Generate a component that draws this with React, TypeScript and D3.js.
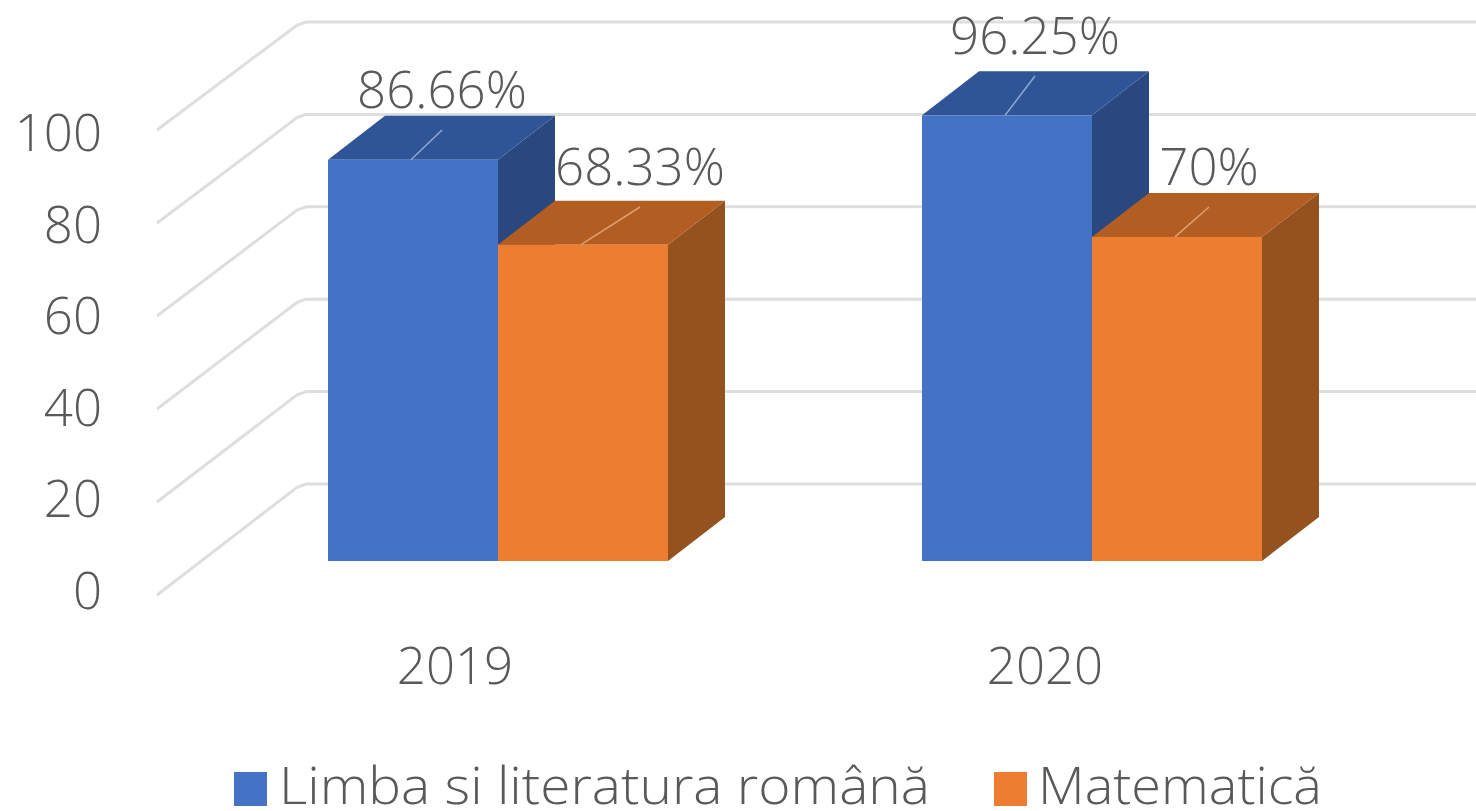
import React from "react";
import * as d3 from "d3";

const categories = ["2019", "2020"];
const seriesNames = ["Limba si literatura română", "Matematică"];
const limbaValues = [86.66, 96.25];
const matematicaValues = [68.33, 70];
const dataLabels = [["86.66%", "96.25%"], ["68.33%", "70%"]];
const ticks = [0, 20, 40, 60, 80, 100];

const W = 1476, H = 811;
const FONT = "'Open Sans', 'Noto Sans', sans-serif";
const TEXT = "#595959";
const GRID = "#dedede";

const yFront = d3.scaleLinear().domain([0, 100]).range([595, 130]);
const yBack = d3.scaleLinear().domain([0, 100]).range([484, 22]);
const yBar = d3.scaleLinear().domain([0, 100]).range([561, 98]);
const yTick = d3.scaleLinear().domain([0, 100]).range([609, 151]);
const xGroup = d3.scaleBand().domain(categories).range([328, 1262]).paddingInner(0.4276);
const xSeries = d3.scaleBand().domain(["0", "1"]).range([0, xGroup.bandwidth()]);
const DX = 57, DY = -44;

const seriesStyle = [
  { front: "#4472c4", top: "#2f5597", side: "#2a4880", leader: "#8fa9d8" },
  { front: "#ed7d31", top: "#b25d22", side: "#93521e", leader: "#e0a070" },
];
const labelCx = [[442, 1035], [640, 1209]];
const labelY = [[108, 54], [185, 185]];
const axisCx = [455, 1045];

function poly(pts: number[][]) {
  return d3.line()(pts as [number, number][]) + "Z";
}

function gridPath(t: number) {
  const yF = yFront(t), yB = yBack(t);
  const bend = d3.interpolateNumber(yF, yB)(0.97);
  return d3.line()([[157, yF], [297, bend], [306, yB], [W, yB]] as [number, number][]) as string;
}

export default function App() {
  const all = [limbaValues, matematicaValues];
  return (
    <svg width={W} height={H} style={{ position: "absolute", left: 0, top: 0, display: "block", filter: "blur(0.5px)" }} fontFamily={FONT}>
      <rect width={W} height={H} fill="#fff" />
      {ticks.map((t) => (
        <path key={t} d={gridPath(t)} fill="none" stroke={GRID} strokeWidth={3} strokeLinejoin="round" />
      ))}
      {ticks.map((t) => (
        <text key={t} x={102} y={yTick(t)} textAnchor="end" fontSize={51} fontWeight={300} fill={TEXT}>{t}</text>
      ))}
      {categories.map((c, ci) =>
        [0, 1].map((si) => {
          const v = all[si][ci];
          const s = seriesStyle[si];
          const x0 = (xGroup(c) as number) + (xSeries(String(si)) as number);
          const x1 = x0 + xSeries.bandwidth();
          const y0 = yBar(0);
          const y1 = yBar(v);
          const mid = (x0 + x1) / 2;
          return (
            <g key={c + si}>
              <path d={poly([[x1, y0], [x1 + DX, y0 + DY], [x1 + DX, y1 + DY], [x1, y1]])} fill={s.side} />
              <path d={poly([[x0, y1], [x0 + DX, y1 + DY], [x1 + DX, y1 + DY], [x1, y1]])} fill={s.top} />
              <rect x={x0} y={y1} width={x1 - x0} height={y0 - y1} fill={s.front} />
              <path d={`M${mid - 2},${y1}L${labelCx[si][ci]},${labelY[si][ci] + 22}`} stroke={s.leader} strokeWidth={1.5} fill="none" />
            </g>
          );
        })
      )}
      {dataLabels.map((row, si) =>
        row.map((l, ci) => (
          <text key={l} x={labelCx[si][ci]} y={labelY[si][ci]} textAnchor="middle" fontSize={51} fontWeight={300} fill={TEXT}>{l}</text>
        ))
      )}
      {categories.map((c, i) => (
        <text key={c} x={axisCx[i]} y={684} textAnchor="middle" fontSize={51} fontWeight={300} fill={TEXT}>{c}</text>
      ))}
      <rect x={234} y={772} width={33} height={34} fill={seriesStyle[0].front} />
      <text x={279} y={804} fontSize={51} fontWeight={300} fill={TEXT} textLength={651} lengthAdjust="spacingAndGlyphs">{seriesNames[0]}</text>
      <rect x={994} y={772} width={33} height={34} fill={seriesStyle[1].front} />
      <text x={1038} y={804} fontSize={51} fontWeight={300} fill={TEXT} textLength={284} lengthAdjust="spacingAndGlyphs">{seriesNames[1]}</text>
    </svg>
  );
}
